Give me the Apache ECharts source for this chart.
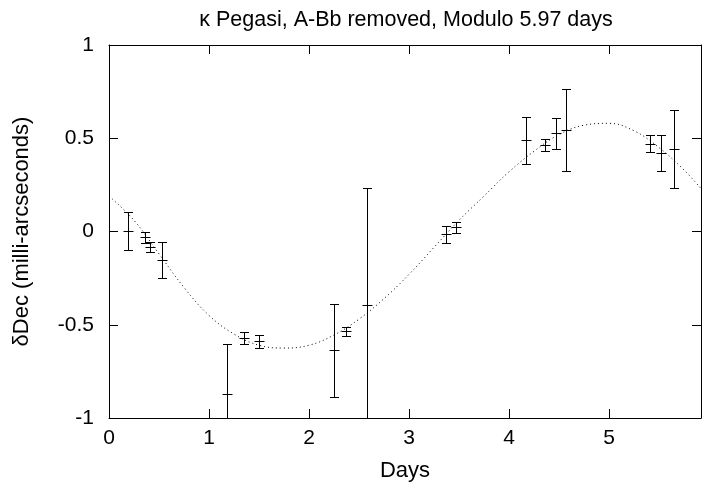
<!DOCTYPE html>
<html>
<head>
<meta charset="utf-8">
<script src="https://cdn.jsdelivr.net/npm/echarts@6/dist/echarts.min.js"></script>
<style>
  html, body { margin: 0; padding: 0; background: #fff; }
  #chart { width: 702px; height: 487px; }
</style>
</head>
<body>
<div id="chart"></div>
<script>
// measured points (phase in days, dDec in mas, 1-sigma error)
const obsDays = [0.19, 0.36, 0.41, 0.525, 1.18, 1.353, 1.495, 2.253, 2.373, 2.58, 3.367, 3.466, 4.165, 4.364, 4.474, 4.573, 5.41, 5.517, 5.653];
const obsDec = [0.003, -0.032, -0.083, -0.153, -0.869, -0.571, -0.589, -0.637, -0.536, -0.396, -0.014, 0.023, 0.489, 0.463, 0.527, 0.544, 0.471, 0.42, 0.443];
const obsErr = [0.1, 0.028, 0.026, 0.096, 0.266, 0.03, 0.033, 0.25, 0.024, 0.628, 0.046, 0.03, 0.125, 0.031, 0.084, 0.22, 0.046, 0.095, 0.21];

// fitted orbit curve
const fitDays = [0, 0.25, 0.5, 0.75, 1.0, 1.25, 1.5, 1.75, 2.0, 2.25, 2.5, 2.75, 3.0, 3.25, 3.5, 3.75, 4.0, 4.25, 4.5, 4.75, 5.0, 5.25, 5.5, 5.75, 5.92];
const fitDec = [0.19, 0.06, -0.12, -0.3, -0.45, -0.55, -0.61, -0.625, -0.61, -0.555, -0.47, -0.36, -0.23, -0.085, 0.06, 0.19, 0.32, 0.43, 0.52, 0.57, 0.58, 0.54, 0.45, 0.33, 0.23];

const FONT = "Liberation Sans";
const chart = echarts.init(document.getElementById("chart"));

function renderErr(params, api) {
  const x = api.value(0);
  const y = api.value(1);
  const e = api.value(2);
  const c = api.coord([x, y]);
  const hi = api.coord([x, y + e]);
  const lo = api.coord([x, y - e]);
  const cx = Math.round(c[0]) + 0.5;
  const cy = Math.round(c[1]) + 0.5;
  const ty = Math.round(hi[1]) + 0.5;
  const by = Math.round(lo[1]) + 0.5;
  const cap = 4.5;
  const arm = 5;
  const style = { stroke: "#000", lineWidth: 1, fill: null };
  return {
    type: "group",
    children: [
      { type: "line", shape: { x1: cx, y1: ty, x2: cx, y2: by }, style },
      { type: "line", shape: { x1: cx - cap, y1: ty, x2: cx + cap, y2: ty }, style },
      { type: "line", shape: { x1: cx - cap, y1: by, x2: cx + cap, y2: by }, style },
      { type: "line", shape: { x1: cx - arm, y1: cy, x2: cx + arm, y2: cy }, style },
    ],
  };
}

const tickStyle = { show: true, inside: true, length: 9, lineStyle: { color: "#000", width: 1 } };
const lineStyle = { show: true, onZero: false, lineStyle: { color: "#000", width: 1 } };
const labelStyle = { color: "#000", fontFamily: FONT, fontSize: 21 };
const nameStyle = { color: "#000", fontFamily: FONT, fontSize: 22 };

const option = {
  backgroundColor: "#fff",
  animation: false,
  grid: { left: 109, top: 45, width: 592, height: 376 },
  graphic: [
    {
      type: "text",
      x: 406,
      y: 20,
      style: {
        text: "κ Pegasi, A-Bb removed, Modulo 5.97 days",
        fill: "#000",
        font: "21.5px " + FONT,
        align: "center",
        verticalAlign: "middle",
      },
    },
  ],
  xAxis: [
    {
      type: "value",
      min: 0,
      max: 5.92,
      interval: 1,
      position: "bottom",
      axisLine: lineStyle,
      axisTick: tickStyle,
      splitLine: { show: false },
      axisLabel: Object.assign({ margin: 10, showMaxLabel: false }, labelStyle),
      name: "Days",
      nameLocation: "middle",
      nameGap: 42,
      nameTextStyle: nameStyle,
    },
    {
      type: "value",
      min: 0,
      max: 5.92,
      interval: 1,
      position: "top",
      axisLine: lineStyle,
      axisTick: tickStyle,
      splitLine: { show: false },
      axisLabel: { show: false },
    },
  ],
  yAxis: [
    {
      type: "value",
      min: -1,
      max: 1,
      interval: 0.5,
      position: "left",
      axisLine: lineStyle,
      axisTick: tickStyle,
      splitLine: { show: false },
      axisLabel: Object.assign({ margin: 15 }, labelStyle),
      name: "δDec (milli-arcseconds)",
      nameLocation: "middle",
      nameGap: 76,
      nameTextStyle: nameStyle,
    },
    {
      type: "value",
      min: -1,
      max: 1,
      interval: 0.5,
      position: "right",
      axisLine: lineStyle,
      axisTick: tickStyle,
      splitLine: { show: false },
      axisLabel: { show: false },
    },
  ],
  series: [
    {
      type: "line",
      data: fitDays.map((d, i) => [d, fitDec[i]]),
      smooth: 0.4,
      showSymbol: false,
      symbol: "none",
      lineStyle: { color: "#000", width: 1, type: [1, 3] },
      clip: true,
      silent: true,
    },
    {
      type: "custom",
      data: obsDays.map((d, i) => [d, obsDec[i], obsErr[i]]),
      renderItem: renderErr,
      clip: true,
      silent: true,
    },
  ],
};

chart.setOption(option);
</script>
</body>
</html>
